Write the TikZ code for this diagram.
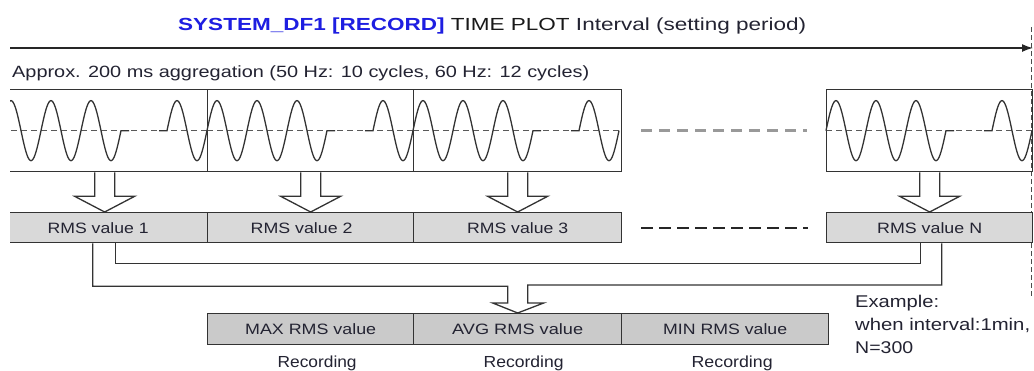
\documentclass[tikz,border=0pt]{standalone}
\usepackage{fontspec}
\setmainfont{Liberation Sans}
\usetikzlibrary{calc,arrows.meta}
\definecolor{titleblue}{RGB}{30,30,225}
\definecolor{txt}{RGB}{35,35,50}
\definecolor{boxfill}{RGB}{217,217,217}
\definecolor{boxfillb}{RGB}{202,202,202}
\newcommand\fitw[2]{\resizebox{#1}{\height}{#2}}
\newcommand\fs[1]{\fontsize{#1}{#1}\selectfont}
\newcommand\wavein[1]{%
  \draw[cdash] (#1.west) -- (#1.east);
  \begin{scope}[shift={(#1.west)}]
    \draw[wav] plot[domain=0:120,samples=121,smooth] (\x,{-30*sin(9*\x)}) -- (128,0);
    \draw[wav] (158,0) -- (166,0) -- plot[domain=166:206,samples=41,smooth] (\x,{-30*sin(9*(\x-166))});
  \end{scope}}
\newcommand\hollowdown[2]{%
  \draw[hol] ($(#1.south)+(-10,0)$) -- ++(0,24) -- ++(-20,0) -- (#2.north)
    -- ($(#1.south)+(30,24)$) -- ++(-20,0) -- ($(#1.south)+(10,0)$);}
\begin{document}
\begin{tikzpicture}[x=1pt,y=-1pt,
  wbox/.style={draw=black!80, line width=1.3pt, minimum height=82pt, inner sep=0pt, anchor=north west},
  rbox/.style={draw=black!80, fill=boxfill, line width=1.3pt, minimum height=30pt, inner sep=0pt, anchor=north west, text=txt, font=\fs{15}},
  bbox/.style={draw=black!80, fill=boxfillb, line width=1.3pt, minimum height=31pt, inner sep=0pt, anchor=north west, text=txt, font=\fs{15}},
  wav/.style={line width=1.3pt, black!80},
  cdash/.style={line width=1.3pt, black!65, dash pattern=on 6pt off 4pt},
  conn/.style={line width=1.3pt, black!80},
  hol/.style={line width=1.3pt, black!80},
  lbl/.style={inner sep=0pt, anchor=base, text=txt},
]
\useasboundingbox (0,0) rectangle (1034,370);
\fill[white] (0,0) rectangle (1034,370);
\begin{scope}
\clip (10,0) rectangle (1034,370);

% title and time axis
\node[anchor=base west, inner sep=0pt] (title) at (178,30)
  {\fs{17.5}\fitw{628pt}{\textcolor{titleblue}{\bfseries SYSTEM\_DF1 [RECORD]} \textcolor{black!90}{TIME PLOT} \textcolor{txt}{Interval (setting period)}}};
\coordinate (tl) at (8,48);
\coordinate (tr) at (1033,48);
\draw[line width=1.5pt, black!85, -{Latex[length=11pt,width=8pt]}] (tl) -- (tr);
\coordinate (vt) at (1031,27);
\coordinate (vb) at (1031,296);
\draw[black!70, line width=1pt, dash pattern=on 5pt off 3pt] (vt) -- (vb);

\node[anchor=base west, inner sep=0pt, text=txt] (agg) at (12,77)
  {\fs{16.3}\fitw{577pt}{Approx. 200 ms aggregation (50 Hz: 10 cycles, 60 Hz: 12 cycles)}};

% waveform boxes
\node[wbox, minimum width=206pt] (w1) at (1,89) {};
\node[wbox, minimum width=206pt] (w2) at (207,89) {};
\node[wbox, minimum width=208pt] (w3) at (413,89) {};
\node[wbox, minimum width=206pt] (wN) at (826,89) {};
\wavein{w1}
\wavein{w2}
\wavein{w3}
\wavein{wN}
\draw[black!40, line width=3pt, dash pattern=on 11pt off 7pt] ($(w3.east)+(19,0)$) -- ($(wN.west)+(-19,0)$);

% RMS boxes
\node[rbox, minimum width=206pt] (r1) at (1,212) {\hspace*{-13pt}\fitw{101pt}{RMS value 1}};
\node[rbox, minimum width=206pt] (r2) at (207,212) {\hspace*{-18pt}\fitw{102pt}{RMS value 2}};
\node[rbox, minimum width=208pt] (r3) at (413,212) {\fitw{101pt}{RMS value 3}};
\node[rbox, minimum width=206pt] (rN) at (826,212) {\fitw{105pt}{RMS value N}};
\draw[black!85, line width=2pt, dash pattern=on 12pt off 6pt] ($(r3.east)+(19,0)$) -- ($(rN.west)+(-18,0)$);

\hollowdown{w1}{r1}
\hollowdown{w2}{r2}
\hollowdown{w3}{r3}
\hollowdown{wN}{rN}

% result boxes
\node[bbox, minimum width=206pt] (bmax) at (207,313) {\fitw{131pt}{MAX RMS value}};
\node[bbox, minimum width=208pt] (bavg) at (413,313) {\fitw{131pt}{AVG RMS value}};
\node[bbox, minimum width=207pt] (bmin) at (621,313) {\fitw{124pt}{MIN RMS value}};
\node[lbl, font=\fs{16}] (rec1) at ($(bmax.south)+(6.5,22)$) {\fitw{79pt}{Recording}};
\node[lbl, font=\fs{16}] (rec2) at ($(bavg.south)+(6,22)$) {\fitw{80pt}{Recording}};
\node[lbl, font=\fs{16}] (rec3) at ($(bmin.south)+(7,22)$) {\fitw{81pt}{Recording}};

% connectors
\coordinate (c1a) at ($(r1.south)+(-12,0)$);
\coordinate (c1b) at ($(r1.south)+(11,0)$);
\coordinate (cNa) at ($(rN.south)+(-9,0)$);
\coordinate (cNb) at ($(rN.south)+(12,0)$);
\draw[conn] (c1b) -- ++(0,20) -| (cNa);
\draw[conn] (c1a) -- ++(0,43) -| ($(bavg.north)+(-10,-10)$) -- ++(-15,0) -- (bavg.north)
  -- ++(26,-10) -- ++(-16,0) -- ++(0,-18) -| (cNb);

% example
\node[anchor=base west, inner sep=0pt, text=txt, font=\fs{17}] (ex1) at (855,307) {\fitw{84pt}{Example:}};
\node[anchor=base west, inner sep=0pt, text=txt, font=\fs{17}] (ex2) at (855,330) {\fitw{175pt}{when interval:1min,}};
\node[anchor=base west, inner sep=0pt, text=txt, font=\fs{17}] (ex3) at (855,353) {\fitw{58pt}{N=300}};
\end{scope}
\end{tikzpicture}
\end{document}
